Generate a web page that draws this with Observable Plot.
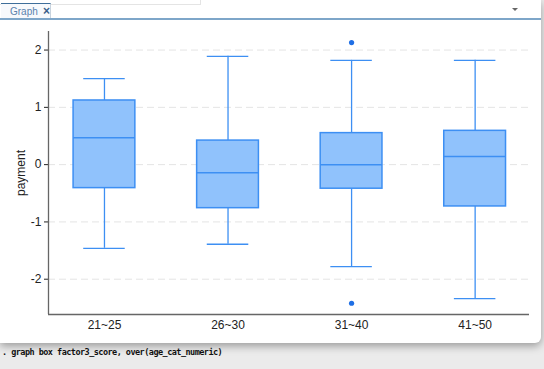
<!DOCTYPE html>
<html>
<head>
<meta charset="utf-8">
<script src="https://cdn.jsdelivr.net/npm/d3@7"></script>
<script src="https://cdn.jsdelivr.net/npm/@observablehq/plot@0.6"></script>
<style>
  html, body { margin: 0; padding: 0; }
  body { width: 544px; height: 369px; background: #ebebeb; position: relative; overflow: hidden; font-family: "Liberation Sans", Arial, sans-serif; }
  #win { position: absolute; left: 0; top: 0; width: 541px; height: 343px; background: #fff; border-bottom-right-radius: 6px; box-shadow: 0 3px 8px rgba(0,0,0,0.35); }
  #topstrip { position: absolute; left: 0; top: 0; width: 200px; height: 4px; border-bottom: 1px solid #e4e4e4; border-right: 1px solid #e4e4e4; }
  #tab { position: absolute; left: 1px; top: 3px; width: 49px; height: 15px; border-top: 1px solid #3e6e9a; border-right: 1px solid #c8d3de; background: #f7f9fc; }
  #tab .t { position: absolute; left: 9px; top: 2px; font-size: 10px; color: #5b82ad; }
  #tab .x { position: absolute; left: 42px; top: 0px; font-size: 12px; font-weight: bold; color: #3a5f8a; }
  #sep { position: absolute; left: 0; top: 18px; width: 541px; height: 2px; background: #7ea6c9; }
  #dd { position: absolute; left: 512px; top: 8px; width: 0; height: 0; border-left: 3px solid transparent; border-right: 3px solid transparent; border-top: 3px solid #666; }
  #chart { position: absolute; left: 0; top: 20px; }
  #cmd { position: absolute; left: 2px; top: 347px; font-family: "DejaVu Sans Mono", "Liberation Mono", monospace; font-weight: bold; font-size: 8.5px; letter-spacing: -0.53px; color: #111; white-space: pre; }
</style>
</head>
<body>
<div id="win">
  <div id="topstrip"></div>
  <div id="tab"><span class="t">Graph</span><span class="x">×</span></div>
  <div id="sep"></div>
  <div id="dd"></div>
  <div id="chart"></div>
</div>
<div id="cmd">. graph box factor3_score, over(age_cat_numeric)</div>
<script>
const categories = ["21~25", "26~30", "31~40", "41~50"];
const lowerWhisker = [-1.46, -1.39, -1.78, -2.34];
const q1 = [-0.41, -0.76, -0.42, -0.73];
const medians = [0.47, -0.14, 0.00, 0.14];
const q3 = [1.12, 0.42, 0.55, 0.59];
const upperWhisker = [1.50, 1.89, 1.82, 1.82];
const outlierCategory = ["31~40", "31~40"];
const outlierValues = [2.13, -2.42];
const yTicks = [-2, -1, 0, 1, 2];
const yLabel = "payment";

const boxes = categories.map((c, i) => ({
  cat: c, pos: i + 1,
  lo: lowerWhisker[i], q1: q1[i], med: medians[i], q3: q3[i], hi: upperWhisker[i]
}));
const outliers = outlierValues.map((v, i) => ({pos: categories.indexOf(outlierCategory[i]) + 1, v}));

const boxHalf = 0.25, capHalf = 0.168;
const xDomain = [0.547, 4.44];
const yDomain = [-2.616, 2.324];
const stroke = "#3d8ff3";
const fill = "#90c2fc";

const chart = Plot.plot({
  width: 540,
  height: 320,
  marginLeft: 48,
  marginTop: 11,
  marginBottom: 26,
  marginRight: 11,
  style: {fontFamily: "'Liberation Sans', Arial, sans-serif", fontSize: "12px", color: "#222", background: "transparent"},
  x: {domain: xDomain, ticks: [1, 2, 3, 4], tickFormat: d => categories[d - 1], tickSize: 0, tickPadding: 6, label: null},
  y: {domain: yDomain, ticks: yTicks, tickFormat: d => String(d), tickSize: 4, tickPadding: 3, label: null},
  marks: [
    Plot.ruleY(yTicks, {stroke: "#e4e4e4", strokeWidth: 1, strokeDasharray: "7,4"}),
    Plot.ruleX(boxes, {x: "pos", y1: "lo", y2: "q1", stroke, strokeWidth: 1.3}),
    Plot.ruleX(boxes, {x: "pos", y1: "q3", y2: "hi", stroke, strokeWidth: 1.3}),
    Plot.ruleY(boxes, {y: "lo", x1: d => d.pos - capHalf, x2: d => d.pos + capHalf, stroke, strokeWidth: 1.3}),
    Plot.ruleY(boxes, {y: "hi", x1: d => d.pos - capHalf, x2: d => d.pos + capHalf, stroke, strokeWidth: 1.3}),
    Plot.rectY(boxes, {x1: d => d.pos - boxHalf, x2: d => d.pos + boxHalf, y1: "q1", y2: "q3", fill, stroke, strokeWidth: 1.5}),
    Plot.ruleY(boxes, {y: "med", x1: d => d.pos - boxHalf, x2: d => d.pos + boxHalf, stroke, strokeWidth: 1.5}),
    Plot.dot(outliers, {x: "pos", y: "v", r: 2.6, fill: "#1f6fe5", stroke: null}),
    Plot.ruleX([xDomain[0]], {stroke: "#666", strokeWidth: 1.3}),
    Plot.ruleY([yDomain[0]], {stroke: "#666", strokeWidth: 1.3}),
    Plot.text([yLabel], {text: d => d, frameAnchor: "left", textAnchor: "middle", rotate: -90, dx: -27, fontSize: 12, fill: "#222"})
  ]
});
document.getElementById("chart").appendChild(chart);
</script>
</body>
</html>
